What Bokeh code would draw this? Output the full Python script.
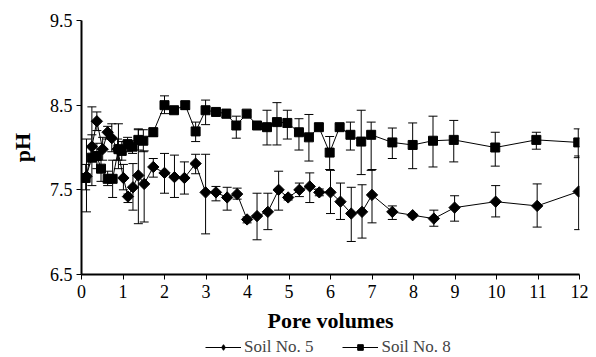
import numpy as np
from bokeh.plotting import figure
from bokeh.layouts import column
from bokeh.models import (ColumnDataSource, Range1d, FixedTicker, Whisker, TeeHead,
                          Legend, LegendItem)
from bokeh.embed import file_html
from bokeh.resources import INLINE

# Soil No. 5 (diamonds)
s5_x = [0.12, 0.25, 0.37, 0.51, 0.63, 0.73, 0.87, 1.01, 1.12, 1.24, 1.37, 1.51, 1.73,
        2.0, 2.24, 2.48, 2.75, 2.99, 3.24, 3.51, 3.75, 3.99, 4.23, 4.49, 4.75, 4.98,
        5.25, 5.5, 5.73, 6.0, 6.24, 6.5, 6.76, 7.0, 7.49, 7.98, 8.49, 8.99, 9.98,
        10.98, 11.98]
s5_y = [7.66, 8.01, 8.31, 7.98, 8.18, 8.11, 7.98, 7.64, 7.42, 7.53, 7.67, 7.57, 7.77,
        7.70, 7.65, 7.64, 7.81, 7.47, 7.47, 7.41, 7.45, 7.15, 7.19, 7.24, 7.50, 7.41,
        7.50, 7.54, 7.47, 7.47, 7.36, 7.22, 7.24, 7.44, 7.24, 7.20, 7.16, 7.29, 7.36,
        7.31, 7.48]
s5_lo = [7.24, 7.90, 8.20, 7.85, 8.10, 7.95, 7.85, 7.50, 7.35, 7.26, 7.10, 7.12, 7.65,
         7.46, 7.41, 7.45, 7.69, 6.98, 7.37, 7.26, 7.39, 7.11, 6.91, 7.03, 7.26, 7.38,
         7.42, 7.35, 7.43, 7.22, 7.15, 6.89, 6.93, 7.11, 7.15, 7.18, 7.07, 7.13, 7.18,
         7.06, 7.03]
s5_hi = [8.10, 8.15, 8.42, 8.12, 8.25, 8.28, 8.10, 7.80, 7.45, 7.81, 8.22, 7.96, 7.87,
         7.93, 7.91, 7.83, 7.92, 7.92, 7.54, 7.53, 7.52, 7.18, 7.46, 7.46, 7.72, 7.44,
         7.58, 7.70, 7.51, 7.73, 7.58, 7.53, 7.56, 7.74, 7.31, 7.22, 7.26, 7.43, 7.55,
         7.57, 7.90]

# Soil No. 8 (squares)
s8_x = [0.10, 0.25, 0.37, 0.47, 0.63, 0.75, 0.89, 0.97, 1.11, 1.23, 1.37, 1.49, 1.73,
        2.0, 2.23, 2.5, 2.75, 2.99, 3.24, 3.49, 3.73, 3.98, 4.23, 4.47, 4.71, 4.96,
        5.24, 5.48, 5.72, 5.98, 6.22, 6.48, 6.74, 6.98, 7.49, 7.98, 8.47, 8.97, 9.97,
        10.96, 11.97]
s8_y = [7.64, 7.88, 7.90, 7.75, 7.63, 7.63, 7.98, 7.96, 8.04, 8.01, 8.09, 8.08, 8.18,
        8.50, 8.44, 8.50, 8.19, 8.44, 8.42, 8.40, 8.26, 8.40, 8.26, 8.24, 8.30, 8.29,
        8.18, 8.12, 8.24, 7.94, 8.24, 8.15, 8.07, 8.15, 8.06, 8.03, 8.08, 8.09, 8.00,
        8.09, 8.06]
s8_lo = [7.50, 7.55, 7.75, 7.60, 7.55, 7.41, 7.75, 7.85, 7.95, 7.93, 7.97, 7.95, 8.13,
         8.40, 8.40, 8.45, 8.07, 8.27, 8.39, 8.35, 8.11, 8.37, 8.22, 8.03, 8.03, 8.10,
         7.97, 7.84, 8.20, 7.74, 8.21, 7.97, 7.68, 7.73, 7.87, 7.75, 7.77, 7.83, 7.78,
         7.98, 7.88]
s8_hi = [7.80, 8.48, 8.05, 7.95, 7.72, 7.85, 8.28, 8.07, 8.12, 8.08, 8.21, 8.21, 8.23,
         8.61, 8.48, 8.54, 8.30, 8.56, 8.45, 8.45, 8.37, 8.43, 8.30, 8.44, 8.53, 8.44,
         8.34, 8.39, 8.28, 8.13, 8.27, 8.30, 8.44, 8.30, 8.23, 8.29, 8.37, 8.32, 8.18,
         8.18, 8.22]

x_ticks = list(range(0, 13))
y_ticks = [6.5, 7.5, 8.5, 9.5]
series_names = ["Soil No. 5", "Soil No. 8"]

FONT = "Liberation Serif"

p = figure(width=596, height=337, output_backend="svg", toolbar_location=None,
           x_range=Range1d(0, 12), y_range=Range1d(6.5, 9.5),
           min_border_left=81, min_border_right=17, min_border_top=20, min_border_bottom=63)
p.outline_line_color = None
p.grid.visible = False
p.background_fill_color = "white"
p.border_fill_color = "white"

s5 = ColumnDataSource(dict(x=s5_x, y=s5_y, lo=s5_lo, hi=s5_hi))
s8 = ColumnDataSource(dict(x=s8_x, y=s8_y, lo=s8_lo, hi=s8_hi))

for src in (s8, s5):
    w = Whisker(source=src, base="x", lower="lo", upper="hi", line_color="black",
                line_width=1,
                upper_head=TeeHead(size=9, line_color="black", line_width=1),
                lower_head=TeeHead(size=9, line_color="black", line_width=1))
    p.add_layout(w)

p.line("x", "y", source=s8, line_color="black", line_width=1)
p.scatter("x", "y", source=s8, marker="square", size=9, fill_color="black",
          line_color="black")
p.line("x", "y", source=s5, line_color="black", line_width=1)
p.scatter("x", "y", source=s5, marker="square", angle=np.pi / 4, size=8,
          fill_color="black", line_color="black")

p.xaxis.ticker = FixedTicker(ticks=x_ticks, minor_ticks=[])
p.yaxis.ticker = FixedTicker(ticks=y_ticks, minor_ticks=[])

for ax in p.xaxis + p.yaxis:
    ax.axis_line_width = 2
    ax.axis_line_color = "black"
    ax.major_tick_out = 5
    ax.major_tick_in = 0
    ax.major_tick_line_color = "black"
    ax.minor_tick_line_color = None
    ax.major_label_text_font = FONT
    ax.major_label_text_font_size = "18px"
    ax.major_label_text_color = "black"
    ax.axis_label_text_font = FONT
    ax.axis_label_text_font_style = "bold"
    ax.axis_label_text_font_size = "22px"
    ax.axis_label_text_color = "black"

p.xaxis.axis_label = "Pore volumes"
p.yaxis.axis_label = "pH"
p.xaxis.major_label_standoff = 5
p.xaxis.axis_label_standoff = 7
p.yaxis.major_label_standoff = 4
p.yaxis.axis_label_standoff = 12

# legend strip below the chart
lg = figure(width=596, height=20, output_backend="svg", toolbar_location=None,
            x_range=Range1d(100, 101), y_range=Range1d(100, 101),
            x_axis_type=None, y_axis_type=None, min_border=0)
lg.outline_line_color = None
lg.grid.visible = False
gl5 = lg.line("x", "y", source=s5, line_color="black", line_width=1)
gm5 = lg.scatter("x", "y", source=s5, marker="diamond", size=11, fill_color="black",
                 line_color="black")
gl8 = lg.line("x", "y", source=s8, line_color="black", line_width=1)
gm8 = lg.scatter("x", "y", source=s8, marker="square", size=8, fill_color="black",
                 line_color="black")
legend = Legend(items=[LegendItem(label=series_names[0], renderers=[gl5, gm5]),
                       LegendItem(label=series_names[1], renderers=[gl8, gm8])],
                orientation="horizontal", location=(124, 0),
                label_text_font=FONT, label_text_font_size="17px",
                glyph_width=36, glyph_height=14, spacing=29, label_standoff=3,
                label_height=14,
                border_line_color=None, background_fill_alpha=0,
                padding=0, margin=0)
lg.add_layout(legend, "center")

open("out.html", "w").write(file_html(column(p, lg, spacing=0), INLINE))
